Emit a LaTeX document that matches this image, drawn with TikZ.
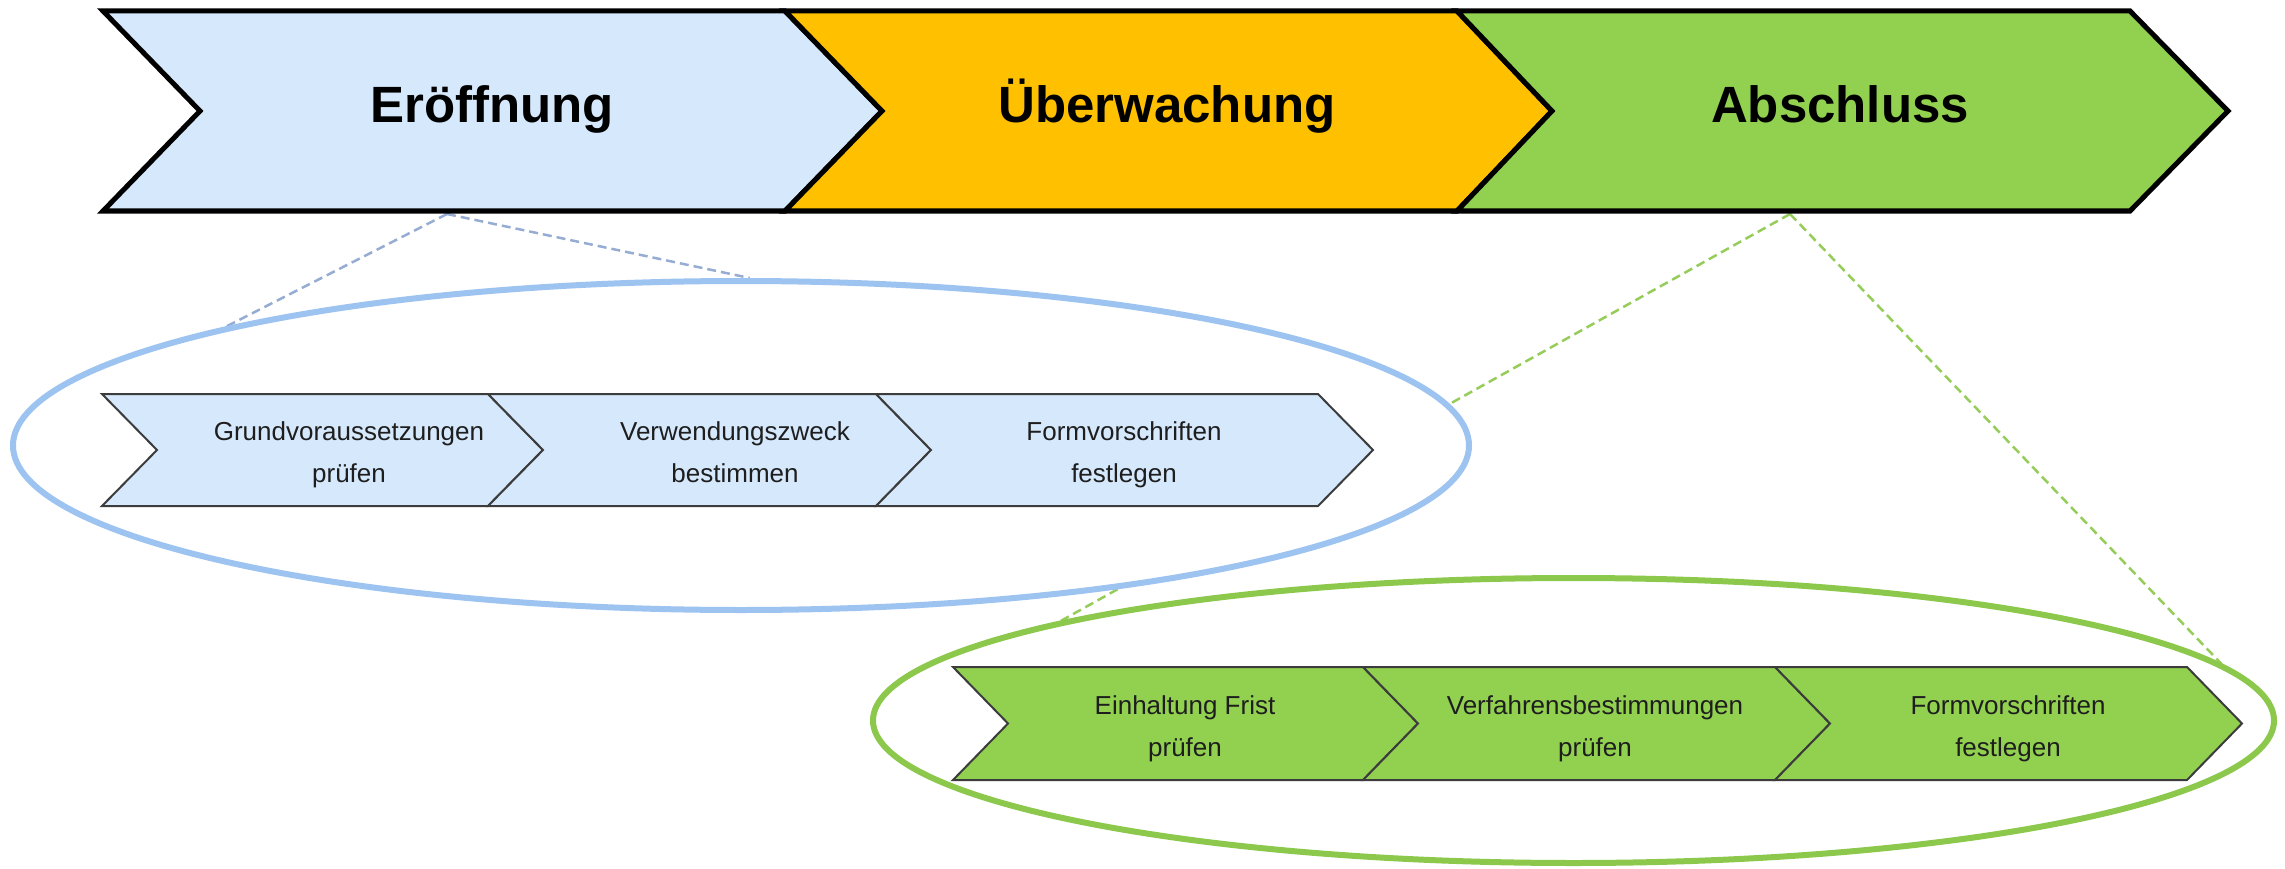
\documentclass[tikz,border=0pt]{standalone}
\usepackage{fontspec}
\setmainfont{Liberation Sans}
\usetikzlibrary{shapes.geometric}
\definecolor{lblue}{RGB}{214,232,252}
\definecolor{orangeF}{RGB}{255,192,0}
\definecolor{greenF}{RGB}{146,208,80}
\definecolor{blueEll}{RGB}{157,195,240}
\definecolor{greenEll}{RGB}{140,200,75}
\definecolor{blueDash}{RGB}{150,172,210}
\definecolor{greenDash}{RGB}{150,205,90}
\definecolor{subline}{RGB}{60,60,60}
\definecolor{subtext}{RGB}{30,30,30}
\pgfdeclarelayer{bg}
\pgfsetlayers{bg,main}
\tikzset{
  bigchev/.style={draw=black, line width=5pt, line join=miter},
  smallchev/.style={draw=subline, line width=2pt, line join=miter},
  toptitle/.style={anchor=base, inner sep=0pt, font=\fontsize{51}{60}\selectfont\bfseries},
  subtitle/.style={anchor=center, inner sep=0pt, align=center, text=subtext, font=\fontsize{26}{42}\selectfont},
  ellbase/.style={ellipse, inner sep=0pt, fill=white, line width=6pt},
  bdash/.style={draw=blueDash, line width=2.5pt, dash pattern=on 9pt off 5pt},
  gdash/.style={draw=greenDash, line width=2.5pt, dash pattern=on 9pt off 5pt},
}
\begin{document}
\begin{tikzpicture}[x=1pt, y=-1pt]
\useasboundingbox (0,0) rectangle (2285,869);

% ellipses
\node[ellbase, draw=blueEll, minimum width=1456pt, minimum height=329pt] (bell) at (741,445.5) {};
\node[ellbase, draw=greenEll, minimum width=1401pt, minimum height=285pt] (gell) at (1573.5,720.5) {};

% top chevrons
\path[bigchev, fill=lblue] (103,11) -- (785,11) -- (882,111) -- (785,211) -- (103,211) -- (200,111) -- cycle;
\path[bigchev, fill=orangeF] (785,11) -- (1457,11) -- (1552,111) -- (1457,211) -- (785,211) -- (882,111) -- cycle;
\path[bigchev, fill=greenF] (1457,11) -- (2130,11) -- (2228,111) -- (2130,211) -- (1457,211) -- (1552,111) -- cycle;
\node[toptitle] (eroeff) at (492,123) {Eröffnung};
\node[toptitle] (ueberw) at (1167,123) {Überwachung};
\node[toptitle] (absch) at (1840,123) {Abschluss};
\coordinate (eb) at (447,214);
\coordinate (ab) at (1790,214);

% connectors
\begin{pgfonlayer}{bg}
\draw[bdash] (eb) -- (bell.167);
\draw[bdash] (eb) -- (bell.87);
\draw[gdash] (ab) -- (gell.169.3);
\draw[gdash] (ab) -- (gell.5.2);
\end{pgfonlayer}

% blue sub chevrons
\path[smallchev, fill=lblue] (102,394) -- (488,394) -- (543,450) -- (488,506) -- (102,506) -- (157,450) -- cycle;
\path[smallchev, fill=lblue] (488,394) -- (876,394) -- (931,450) -- (876,506) -- (488,506) -- (543,450) -- cycle;
\path[smallchev, fill=lblue] (876,394) -- (1318,394) -- (1373,450) -- (1318,506) -- (876,506) -- (931,450) -- cycle;
\node[subtitle] (b1) at (349,452.6) {\strut Grundvoraussetzungen\\prüfen\strut};
\node[subtitle] (b2) at (735,452.6) {\strut Verwendungszweck\\bestimmen\strut};
\node[subtitle] (b3) at (1124,452.6) {\strut Formvorschriften\\festlegen\strut};

% green sub chevrons
\path[smallchev, fill=greenF] (953,667) -- (1363,667) -- (1418,723.5) -- (1363,780) -- (953,780) -- (1008,723.5) -- cycle;
\path[smallchev, fill=greenF] (1363,667) -- (1775,667) -- (1830,723.5) -- (1775,780) -- (1363,780) -- (1418,723.5) -- cycle;
\path[smallchev, fill=greenF] (1775,667) -- (2187,667) -- (2242,723.5) -- (2187,780) -- (1775,780) -- (1830,723.5) -- cycle;
\node[subtitle] (g1) at (1185,726.6) {\strut Einhaltung Frist\\prüfen\strut};
\node[subtitle] (g2) at (1595,726.6) {\strut Verfahrensbestimmungen\\prüfen\strut};
\node[subtitle] (g3) at (2008,726.6) {\strut Formvorschriften\\festlegen\strut};
\end{tikzpicture}
\end{document}
